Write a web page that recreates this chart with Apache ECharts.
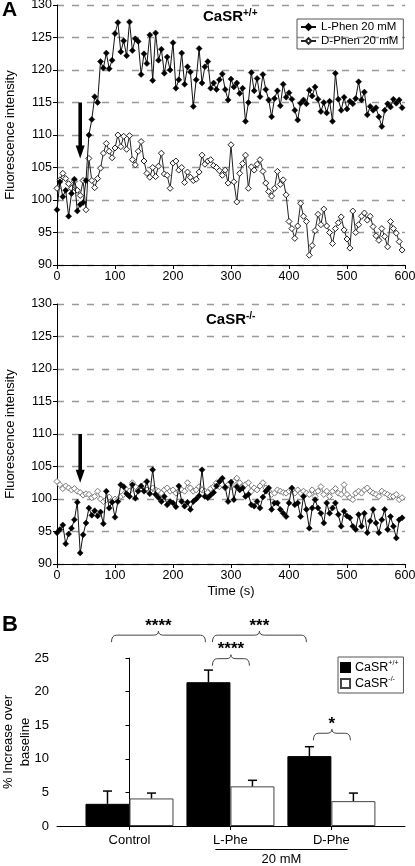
<!DOCTYPE html>
<html><head><meta charset="utf-8">
<script src="https://cdn.jsdelivr.net/npm/echarts@6/dist/echarts.min.js"></script>
<style>html,body{margin:0;padding:0;background:#fff}#c{width:415px;height:866px}</style>
</head><body><div id="c"></div>
<script>
const FONT = "'Liberation Sans', Arial, Helvetica, sans-serif";
const STEP = 5; // seconds between samples (t = index * STEP)

// Panel A, CaSR+/+ (wild type)
const TOP_L = [
 98.5,102.8,100.5,101.5,97.5,101.0,103.2,98.3,99.3,99.6,
 103.0,110.0,112.4,115.9,115.0,121.3,120.3,122.6,120.2,121.5,
 125.6,127.3,122.8,124.5,122.2,127.4,123.0,124.8,124.4,119.3,
 122.5,121.0,125.4,118.4,125.7,121.5,123.2,119.5,122.0,120.0,
 124.2,117.2,118.5,122.6,117.8,120.5,119.7,114.4,118.5,123.3,
 118.0,120.5,121.3,117.2,118.0,117.0,118.5,119.4,117.0,115.4,
 118.6,117.4,118.0,116.4,117.2,112.1,115.0,119.6,116.8,118.7,
 115.9,119.3,117.0,115.4,112.8,115.6,116.8,114.5,117.8,115.8,
 116.5,115.5,113.8,112.3,114.9,115.4,114.8,116.9,116.0,117.4,
 115.5,113.6,115.0,113.4,115.2,112.1,119.5,115.5,113.8,115.8,
 114.0,115.2,114.8,115.6,118.2,115.4,116.6,113.1,114.4,113.8,
 114.2,112.8,111.3,113.8,114.8,114.3,115.5,114.9,115.4,114.2
];
const TOP_D = [
 101.8,103.1,104.1,103.3,102.5,101.8,102.9,101.5,100.7,103.0,
 98.5,106.4,103.0,101.9,103.3,104.9,107.2,108.7,107.5,106.5,
 108.0,110.0,108.2,109.8,107.8,109.9,106.2,105.4,107.5,109.0,
 106.0,104.1,103.5,105.0,103.6,105.2,107.2,104.0,103.8,101.8,
 105.7,106.0,104.6,105.0,102.7,104.3,103.5,103.0,103.2,104.3,
 106.9,105.5,106.0,106.2,105.3,105.0,104.5,103.8,104.6,102.6,
 108.5,102.8,99.7,104.1,105.6,106.9,101.8,105.1,104.6,105.5,
 106.2,104.4,102.6,101.3,100.6,101.8,104.4,102.4,103.1,100.8,
 96.7,95.6,94.1,96.0,99.5,97.5,96.7,91.5,93.0,95.3,
 97.8,96.2,98.6,96.0,95.0,93.3,95.6,96.5,97.4,95.4,
 94.0,92.6,98.3,95.0,96.2,97.5,98.0,96.9,97.5,95.9,
 94.5,93.8,95.6,94.4,92.8,96.7,95.6,94.9,93.6,92.3
];
// Panel A, CaSR-/- (knockout)
const BOT_L = [
 94.8,95.3,96.0,93.1,94.6,95.5,96.8,99.5,91.7,94.5,
 96.3,98.6,97.5,98.2,97.4,98.0,96.2,101.2,98.6,99.5,
 97.2,99.6,102.2,101.9,100.8,100.4,102.2,100.1,101.2,102.0,
 101.2,102.7,100.8,104.5,100.7,100.2,99.6,100.4,99.1,99.6,
 99.4,98.8,102.0,99.6,98.9,99.5,98.4,99.6,100.0,100.5,
 104.5,100.4,100.2,100.6,101.0,102.0,102.7,103.2,101.8,99.6,
 102.6,99.9,101.9,101.4,101.7,100.4,100.7,99.1,98.9,99.6,
 98.6,100.3,101.2,101.7,98.4,99.4,99.4,98.4,97.8,97.3,
 99.4,101.7,99.1,99.4,97.3,100.4,98.4,95.5,98.6,99.9,
 98.6,97.8,96.3,99.4,97.8,98.6,99.4,97.6,95.8,98.1,
 97.4,97.1,95.8,95.3,97.6,95.8,97.8,94.8,96.6,98.4,
 96.3,94.8,96.8,98.4,95.3,97.3,95.8,94.0,96.8,97.1
];
const BOT_D = [
 102.7,102.2,101.6,102.0,101.7,101.4,101.6,101.2,101.0,100.6,
 100.8,100.7,100.2,100.4,101.2,100.0,99.6,99.9,100.3,99.6,
 100.0,99.9,100.4,100.7,101.4,101.2,102.5,101.9,101.4,101.7,
 102.2,101.4,101.2,101.7,101.4,101.2,100.9,101.4,101.7,101.2,
 101.4,100.9,101.2,101.4,101.2,102.5,101.7,101.2,101.4,101.9,
 101.4,101.2,101.0,101.6,101.9,102.5,101.9,102.2,101.7,102.2,
 101.9,102.7,103.2,102.5,101.9,102.2,102.5,101.2,101.7,101.4,
 102.0,102.5,101.7,101.2,100.7,100.9,101.4,101.2,101.0,100.9,
 101.2,101.4,100.9,101.4,100.9,101.2,100.9,100.7,101.4,100.4,
 101.2,101.9,100.7,101.2,100.4,101.2,101.6,100.9,100.7,102.2,
 100.7,100.2,99.9,100.9,101.2,100.9,101.4,101.7,101.2,100.9,
 100.7,100.4,101.2,100.9,100.7,100.4,100.4,100.7,99.9,100.2
];
// Arrows marking addition (time, from value, to value)
const ARROW_TOP = [[40, 115, 106.4]];
const ARROW_BOT = [[40, 110, 102.5]];

// Panel B
const BAR_CATS = ['Control', 'L-Phe', 'D-Phe'];
const BAR_WT = [3.3, 21.4, 10.4];
const BAR_WT_ERR = [5.2, 23.2, 11.8];
const BAR_KO = [4.1, 5.9, 3.7];
const BAR_KO_ERR = [4.9, 6.8, 4.9];
// significance braces: [fromCat, fromSide(-1 WT / +1 KO), toCat, toSide, y level, label]
const BRACES = [
 [0, -1, 1, -1, 28.4, '****'],
 [1, -1, 2, -1, 28.4, '***'],
 [1, -1, 1, 1, 24.9, '****'],
 [2, -1, 2, 1, 13.8, '*']
];
const GROUP = [[0.85, 2.16, '20 mM']];

const BAR_W = 44;
const chart = echarts.init(document.getElementById('c'), null, {renderer: 'canvas'});

const lineAx = {
  type: 'value', min: 0, max: 600, interval: 100,
  axisLine: {lineStyle: {color: '#000', width: 1}},
  axisTick: {length: 4, lineStyle: {color: '#000'}},
  axisLabel: {fontSize: 12.5, color: '#000', margin: 5},
  splitLine: {show: false}
};
const yLineAx = {
  type: 'value', min: 90, max: 130, interval: 5,
  axisLine: {show: true, lineStyle: {color: '#000', width: 1}},
  axisTick: {show: true, length: 4, lineStyle: {color: '#000'}},
  axisLabel: {fontSize: 12.5, color: '#000', margin: 5},
  splitLine: {show: true, lineStyle: {color: '#999', width: 1.3, type: [7, 8]}},
  name: 'Fluorescence intensity', nameLocation: 'middle', nameGap: 40, nameMoveOverlap: false,
  nameTextStyle: {fontSize: 13, color: '#000'}
};

function seriesPair(dataL, dataD, idx, dColor) {
  return [
    {type: 'line', name: 'D-Phen 20 mM', xAxisIndex: idx, yAxisIndex: idx,
     data: dataD.map((v, i) => [i * STEP, v]),
     symbol: 'diamond', symbolSize: 6, showSymbol: true, showAllSymbol: true,
     lineStyle: {color: dColor, width: 1}, itemStyle: {color: '#fff', borderColor: dColor, borderWidth: 1},
     z: 2},
    {type: 'line', name: 'L-Phen 20 mM', xAxisIndex: idx, yAxisIndex: idx,
     data: dataL.map((v, i) => [i * STEP, v]),
     symbol: 'diamond', symbolSize: 6, showSymbol: true, showAllSymbol: true,
     lineStyle: {color: '#111', width: 1}, itemStyle: {color: '#000', borderColor: '#000', borderWidth: 0.5},
     z: 3}
  ];
}

function renderArrow(params, api) {
  const top = api.coord([api.value(0), api.value(1)]);
  const tip = api.coord([api.value(0), api.value(2)]);
  const x = top[0], headLen = 13, headW = 4.5, shaft = 1.8;
  return {type: 'group', children: [
    {type: 'rect', shape: {x: x - shaft, y: top[1], width: shaft * 2, height: tip[1] - headLen - top[1] + 1}, style: {fill: '#000'}},
    {type: 'polygon', shape: {points: [[x - headW, tip[1] - headLen], [x + headW, tip[1] - headLen], [x, tip[1]]]}, style: {fill: '#000'}}
  ]};
}

function renderErr(params, api) {
  const p1 = api.coord([api.value(0), api.value(1)]);
  const p2 = api.coord([api.value(0), api.value(2)]);
  const x = p1[0] + api.value(3) * BAR_W / 2;
  return {type: 'group', children: [
    {type: 'line', shape: {x1: x, y1: p1[1], x2: x, y2: p2[1]}, style: {stroke: '#000', lineWidth: 1.5}},
    {type: 'line', shape: {x1: x - 4.5, y1: p2[1], x2: x + 4.5, y2: p2[1]}, style: {stroke: '#000', lineWidth: 1.5}}
  ]};
}

function renderBrace(params, api) {
  const b = BRACES[params.dataIndex];
  const a = api.coord([b[0], b[4]]);
  const c = api.coord([b[2], b[4]]);
  const x1 = a[0] + b[1] * BAR_W / 2 + 4;
  const x2 = c[0] + b[3] * BAR_W / 2 - 3;
  const y = a[1];
  const xm = (x1 + x2) / 2;
  const d = `M${x1},${y + 7} Q${x1},${y} ${x1 + 5},${y} L${xm - 5},${y} Q${xm},${y} ${xm},${y - 4} Q${xm},${y} ${xm + 5},${y} L${x2 - 5},${y} Q${x2},${y} ${x2},${y + 7}`;
  return {type: 'group', children: [
    {type: 'path', shape: {pathData: d}, style: {stroke: '#444', lineWidth: 1, fill: null}},
    {type: 'text', style: {text: b[5], x: xm, y: y - 9, align: 'center', verticalAlign: 'middle',
      font: "bold 17px " + FONT, fill: '#000'}}
  ]};
}

function renderGroup(params, api) {
  const g = GROUP[params.dataIndex];
  const a = api.coord([g[0], 0]);
  const b = api.coord([g[1], 0]);
  const y = a[1] + 23.5;
  return {type: 'group', children: [
    {type: 'line', shape: {x1: a[0], y1: y, x2: b[0], y2: y}, style: {stroke: '#000', lineWidth: 1}},
    {type: 'text', style: {text: g[2], x: (a[0] + b[0]) / 2, y: y + 10, align: 'center', verticalAlign: 'middle',
      font: "13px " + FONT, fill: '#000'}}
  ]};
}

const supRich = {
  a: {fontSize: 15, fontWeight: 'bold', color: '#000', fontFamily: FONT, lineHeight: 18},
  s: {fontSize: 10, fontWeight: 'bold', color: '#000', fontFamily: FONT, verticalAlign: 'top', lineHeight: 12}
};

const option = {
  animation: false,
  backgroundColor: '#fff',
  textStyle: {fontFamily: FONT, color: '#000'},
  title: [
    {text: 'A', left: 2, top: 0, padding: 0, textStyle: {fontSize: 21, fontWeight: 'bold', color: '#000'}},
    {text: 'B', left: 2, top: 614, padding: 0, textStyle: {fontSize: 22, fontWeight: 'bold', color: '#000'}},
    {text: '{a|CaSR}{s|+/+}', left: 203, top: 8, padding: 0, textStyle: {rich: supRich}},
    {text: '{a|CaSR}{s|-/-}', left: 206, top: 311, padding: 0, textStyle: {rich: supRich}}
  ],
  legend: [
    {data: ['L-Phen 20 mM', 'D-Phen 20 mM'], orient: 'vertical', left: 297, top: 19,
     padding: [2, 5, 2, 3], itemGap: 2, itemWidth: 15, itemHeight: 7,
     borderColor: '#555', borderWidth: 1, borderRadius: 0,
     textStyle: {fontSize: 11.5, color: '#000', fontFamily: FONT}},
    {data: ['CaSR+/+', 'CaSR-/-'], orient: 'vertical', left: 338, top: 657,
     padding: [3, 5, 3, 2], itemGap: 2, itemWidth: 9, itemHeight: 9, icon: 'rect',
     borderColor: '#555', borderWidth: 1, borderRadius: 0,
     formatter: n => n === 'CaSR+/+' ? '{a|CaSR}{s|+/+}' : '{a|CaSR}{s|-/-}',
     textStyle: {color: '#000', rich: {
       a: {fontSize: 12.5, fontFamily: FONT, color: '#000', lineHeight: 15},
       s: {fontSize: 7, fontFamily: FONT, color: '#000', verticalAlign: 'top', lineHeight: 9}}}}
  ],
  grid: [
    {left: 57, top: 5, width: 348, height: 260, containLabel: false, outerBoundsMode: 'none'},
    {left: 57, top: 304, width: 348, height: 260, containLabel: false, outerBoundsMode: 'none'},
    {left: 57, top: 658, width: 348, height: 168, containLabel: false, outerBoundsMode: 'none'}
  ],
  xAxis: [
    Object.assign({gridIndex: 0}, lineAx),
    Object.assign({gridIndex: 1, name: 'Time (s)', nameLocation: 'middle', nameGap: 21, nameMoveOverlap: false,
      nameTextStyle: {fontSize: 13, color: '#000'}}, lineAx),
    {gridIndex: 2, type: 'value', min: -0.718, max: 2.729,
     axisLine: {lineStyle: {color: '#000', width: 1}},
     axisTick: {show: true, length: 4, customValues: [0, 1, 2], lineStyle: {color: '#000'}},
     axisLabel: {customValues: [0, 1, 2], formatter: v => BAR_CATS[Math.round(v)], fontSize: 13, color: '#000', margin: 8},
     splitLine: {show: false}}
  ],
  yAxis: [
    Object.assign({gridIndex: 0}, yLineAx),
    Object.assign({gridIndex: 1}, yLineAx),
    {gridIndex: 2, type: 'value', min: 0, max: 25, interval: 5,
     axisLine: {show: true, lineStyle: {color: '#000', width: 1}},
     axisTick: {show: true, length: 4, lineStyle: {color: '#000'}},
     axisLabel: {fontSize: 13, color: '#000', margin: 8},
     splitLine: {show: false},
     name: '% Increase over\nbaseline', nameLocation: 'middle', nameGap: 23, nameMoveOverlap: false,
     nameTextStyle: {fontSize: 13, color: '#000', lineHeight: 17}}
  ],
  series: [
    ...seriesPair(TOP_L, TOP_D, 0, '#222'),
    ...seriesPair(BOT_L, BOT_D, 1, '#777'),
    {type: 'custom', xAxisIndex: 0, yAxisIndex: 0, renderItem: renderArrow, data: ARROW_TOP, clip: false, z: 5, silent: true},
    {type: 'custom', xAxisIndex: 1, yAxisIndex: 1, renderItem: renderArrow, data: ARROW_BOT, clip: false, z: 5, silent: true},
    {type: 'bar', name: 'CaSR+/+', xAxisIndex: 2, yAxisIndex: 2, barWidth: BAR_W, barGap: '0%',
     data: BAR_WT.map((v, i) => [i, v]), itemStyle: {color: '#000', borderColor: '#000', borderWidth: 1}},
    {type: 'bar', name: 'CaSR-/-', xAxisIndex: 2, yAxisIndex: 2, barWidth: BAR_W, barGap: '0%',
     data: BAR_KO.map((v, i) => [i, v]), itemStyle: {color: '#fff', borderColor: '#444', borderWidth: 1}},
    {type: 'custom', xAxisIndex: 2, yAxisIndex: 2, renderItem: renderErr, clip: false, z: 4,
     data: BAR_WT.map((v, i) => [i, v, BAR_WT_ERR[i], -1]).concat(BAR_KO.map((v, i) => [i, v, BAR_KO_ERR[i], 1]))},
    {type: 'custom', xAxisIndex: 2, yAxisIndex: 2, renderItem: renderBrace, clip: false, z: 4,
     data: BRACES.map(b => [b[0], b[4]])},
    {type: 'custom', xAxisIndex: 2, yAxisIndex: 2, renderItem: renderGroup, clip: false, z: 4,
     data: GROUP.map(g => [g[0], 0])}
  ]
};
chart.setOption(option);
</script>
</body></html>
